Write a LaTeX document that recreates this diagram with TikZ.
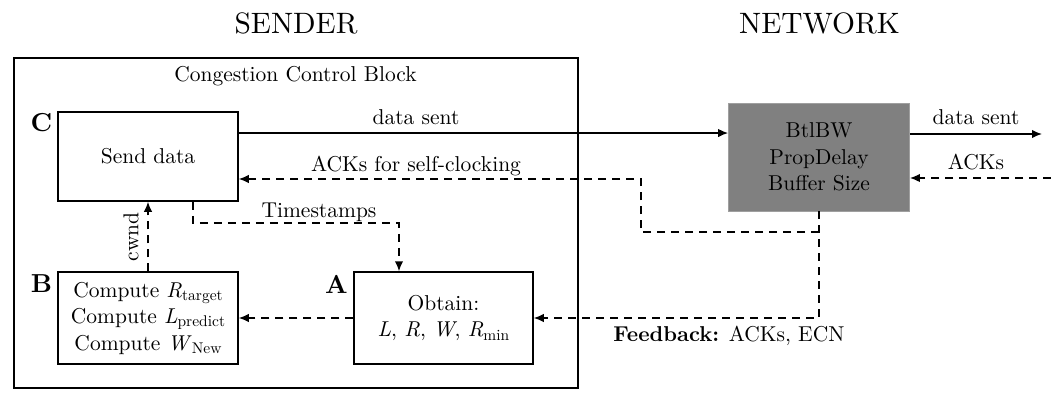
\documentclass[tikz,border=0pt]{standalone}
\usepackage{fontspec}
\setmainfont{lmroman10-regular.otf}[BoldFont=lmroman10-bold.otf, ItalicFont=lmroman10-italic.otf, BoldItalicFont=lmroman10-bolditalic.otf]
\usetikzlibrary{arrows.meta}
\newcommand\lowsub[1]{\raisebox{-0.35ex}{\fontsize{15.5}{15.5}\selectfont #1}}
\tikzset{
  blk/.style={draw, line width=1.5pt, align=center, inner sep=2pt},
  sl/.style={line width=1.5pt},
  dl/.style={line width=1.5pt, dash pattern=on 8pt off 6pt},
  arr/.style={-{Latex[length=10pt,width=8.5pt]}},
  lbl/.style={inner sep=0pt},
  big/.style={inner sep=0pt, font=\bfseries\fontsize{26}{26}\selectfont},
  ttl/.style={inner sep=0pt, font=\fontsize{29.5}{29.5}\selectfont},
}
\begin{document}
\begin{tikzpicture}[x=1pt,y=-1pt,font=\fontsize{21.5}{26.5}\selectfont]
\useasboundingbox (0,0) rectangle (1051,392);
% titles
\node[ttl] (tS) at (296,23) {SENDER};
\node[ttl] (tN) at (819.5,23) {NETWORK};
% congestion control block
\node[draw, sl, minimum width=564pt, minimum height=330pt, inner sep=0pt] (ccb) at (296,223) {};
\node[lbl] (ccbl) at (295.5,76) {Congestion Control Block};
% boxes
\node[blk, minimum width=180pt, minimum height=89pt] (send) at (148,156.5) {Send data};
\node[blk, minimum width=180pt, minimum height=92pt] (B) at (148,318) {Compute \textit{R}\lowsub{target}\\Compute \textit{L}\lowsub{predict}\\Compute \textit{W}\lowsub{New}};
\node[blk, minimum width=179pt, minimum height=92pt] (A) at (443.5,318) {Obtain:\\\textit{L}, \textit{R}, \textit{W}, \textit{R}\lowsub{min}};
\node[fill=gray, draw=gray!75, line width=0.8pt, minimum width=181pt, minimum height=108pt, align=center, inner sep=2pt] (net) at (819,157) {BtlBW\\PropDelay\\Buffer Size};
% letters
\node[big] (lC) at (41.5,123) {C};
\node[big] (lB) at (41.5,284) {B};
\node[big] (lA) at (336.5,284) {A};
% helper coordinates
\coordinate (dsY) at (0,133);
\coordinate (ds2Y) at (0,134);
\coordinate (outR) at (1042,134);
\coordinate (inR) at (1051,178);
\coordinate (ackY) at (0,179);
\coordinate (brY) at (0,232);
\coordinate (brX) at (641,0);
\coordinate (tsX) at (193,0);
\coordinate (tsY) at (0,223);
\coordinate (tsA) at (399,0);
% connectors
\draw[sl, arr] (send.east |- dsY) -- (net.west |- dsY);
\draw[sl, arr] (net.east |- ds2Y) -- (outR);
\draw[dl, arr] (inR) -- (net.east |- inR);
\draw[dl, arr] (net.south) -- (net.south |- A.east) -- (A.east);
\draw[dl, arr] (net.south |- brY) -- (brX |- brY) -- (brX |- ackY) -- (send.east |- ackY);
\draw[dl, arr] (tsX |- send.south) -- (tsX |- tsY) -- (tsA |- tsY) -- (tsA |- A.north);
\draw[dl, arr] (B.north) -- (send.south);
\draw[dl, arr] (A.west) -- (B.east);
% connector labels
\node[lbl] (l1) at (416,117.5) {data sent};
\node[lbl] (l2) at (976,117) {data sent};
\node[lbl] (l3) at (976,162.5) {ACKs};
\node[lbl] (l4) at (416,166) {ACKs for self-clocking};
\node[lbl] (l5) at (319,212) {Timestamps};
\node[lbl, rotate=90] (l6) at (131,237) {cwnd};
\node[lbl] (l7) at (729,336) {\textbf{Feedback:} ACKs, ECN};
\end{tikzpicture}
\end{document}
